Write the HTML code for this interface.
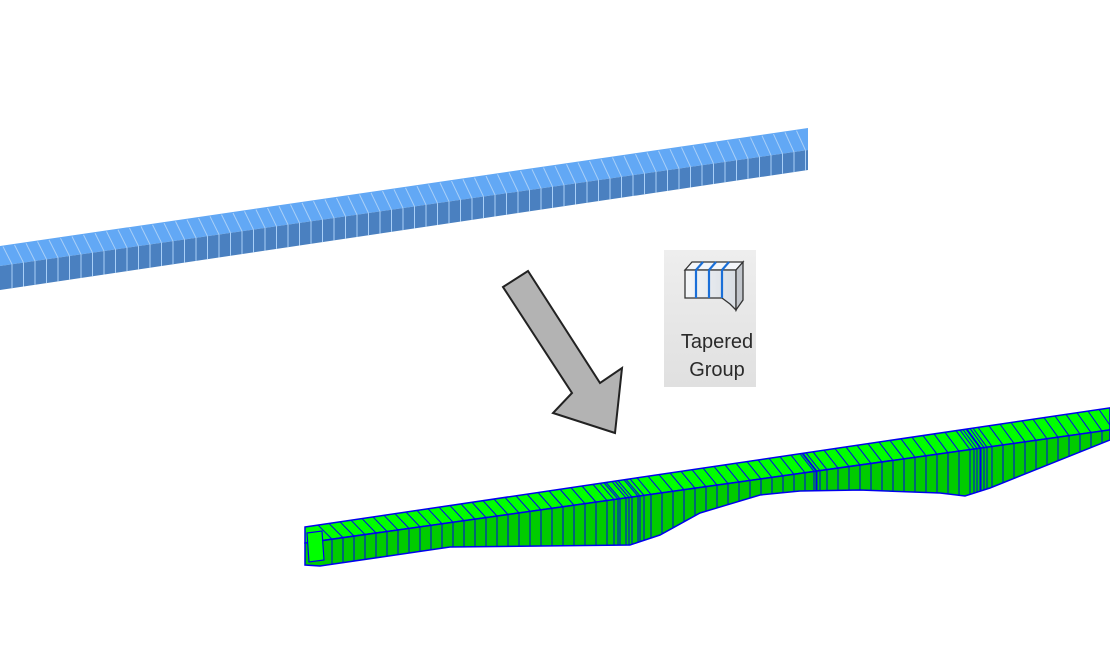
<!DOCTYPE html>
<html><head><meta charset="utf-8"><style>
html,body{margin:0;padding:0;background:#fff;}
svg{display:block;}
</style></head><body>
<svg id="s" width="1110" height="670" viewBox="0 0 1110 670" xmlns="http://www.w3.org/2000/svg">
<rect width="1110" height="670" fill="#fff"/>
<polygon points="0,246 808,128 808,150 0,266" fill="#62a8f5"/>
<polygon points="0,266 808,150 808,170 0,290" fill="#4a80c0"/>
<g id="blines" stroke="#a9cff7" stroke-width="1"></g>
<polygon id="gtop" fill="#00ff00" stroke="#0000ee" stroke-width="1.5"/>
<polygon id="gside" fill="#00cc00" stroke="#0000ee" stroke-width="1.5"/>
<g id="glines" stroke="#0000ee" stroke-width="1"></g>
<polygon points="307,533 322,531 324,560 309,562" fill="#00ff00" stroke="#0000ee" stroke-width="1.2"/>
<polygon points="503,287 528,271 600,383 622,368 615,433 553,413 572,393" fill="#b3b3b3" stroke="#222" stroke-width="2" stroke-linejoin="miter"/>
<defs><linearGradient id="bg" x1="0" y1="0" x2="0" y2="1"><stop offset="0" stop-color="#eeeeee"/><stop offset="1" stop-color="#e0e0e0"/></linearGradient>
<linearGradient id="fr" x1="0" y1="0" x2="1" y2="0"><stop offset="0" stop-color="#f4f6f8"/><stop offset="1" stop-color="#d8dde3"/></linearGradient></defs>
<rect x="664" y="250" width="92" height="137" fill="url(#bg)"/>
<polygon points="685,270 692,262 743,262 736,270" fill="#f4f6fa" stroke="#333" stroke-width="1.3"/>
<polygon points="685,270 736,270 736,310 730,304 722,298 685,298" fill="url(#fr)" stroke="#333" stroke-width="1.3"/>
<polygon points="736,270 743,262 743,300 736,310" fill="#c2c6cc" stroke="#333" stroke-width="1.3"/>
<g stroke="#1a6fd8" stroke-width="2.2">
<line x1="696" y1="270" x2="696" y2="298"/><line x1="696" y1="270" x2="703" y2="262"/>
<line x1="709" y1="270" x2="709" y2="298"/><line x1="709" y1="270" x2="716" y2="262"/>
<line x1="722" y1="270" x2="722" y2="298"/><line x1="722" y1="270" x2="729" y2="262"/>
</g>
<text x="717" y="348" font-family="Liberation Sans, sans-serif" font-size="20" fill="#2a2a2a" text-anchor="middle">Tapered</text>
<text x="717" y="376" font-family="Liberation Sans, sans-serif" font-size="20" fill="#2a2a2a" text-anchor="middle">Group</text>
</svg>
<script>
(function(){
var NS="http://www.w3.org/2000/svg";
function ln(g,x1,y1,x2,y2){var l=document.createElementNS(NS,"line");l.setAttribute("x1",x1);l.setAttribute("y1",y1);l.setAttribute("x2",x2);l.setAttribute("y2",y2);g.appendChild(l);}
var bg=document.getElementById("blines");
function bt(x){return 246-118*x/808;}function bb(x){return 266-116*x/808;}function bo(x){return 290-120*x/808;}
for(var x=3;x<800;x+=11.5){ln(bg,x,bt(x)+1,x+9,bb(x+9));ln(bg,x+9,bb(x+9),x+9,bo(x+9));}
function gt(x){return 527-0.148*(x-305);}function gb(x){return 543-0.1405*(x-305);}
var pts=[[305,565],[320,566],[450,547],[630,545],[660,535],[700,513],[760,495],[800,491],[860,490],[940,493],[965,496],[990,488],[1110,440]];
function gbot(x){for(var i=0;i<pts.length-1;i++){if(x<=pts[i+1][0]){var a=pts[i],b=pts[i+1];return a[1]+(b[1]-a[1])*(x-a[0])/(b[0]-a[0]);}}return 440;}
var tp=[[305,gt(305)],[1110,gt(1110)],[1110,gb(1110)],[305,gb(305)]];
document.getElementById("gtop").setAttribute("points",tp.map(function(p){return p.join(",");}).join(" "));
var side=[[305,gb(305)],[1110,gb(1110)]];for(var i=pts.length-1;i>=0;i--)side.push(pts[i]);
document.getElementById("gside").setAttribute("points",side.map(function(p){return p.join(",");}).join(" "));
var gg=document.getElementById("glines");
var xs=[];for(var x=318;x<1100;x+=11)xs.push(x);
[600,606,612,618,624,630,800,803,806,960,963,966,970,973].forEach(function(v){xs.push(v);});
xs.forEach(function(x){ln(gg,x,gt(x),x+14,gb(x+14));if(x+14<1110)ln(gg,x+14,gb(x+14),x+14,gbot(x+14));});
})();
</script>
</body></html>
